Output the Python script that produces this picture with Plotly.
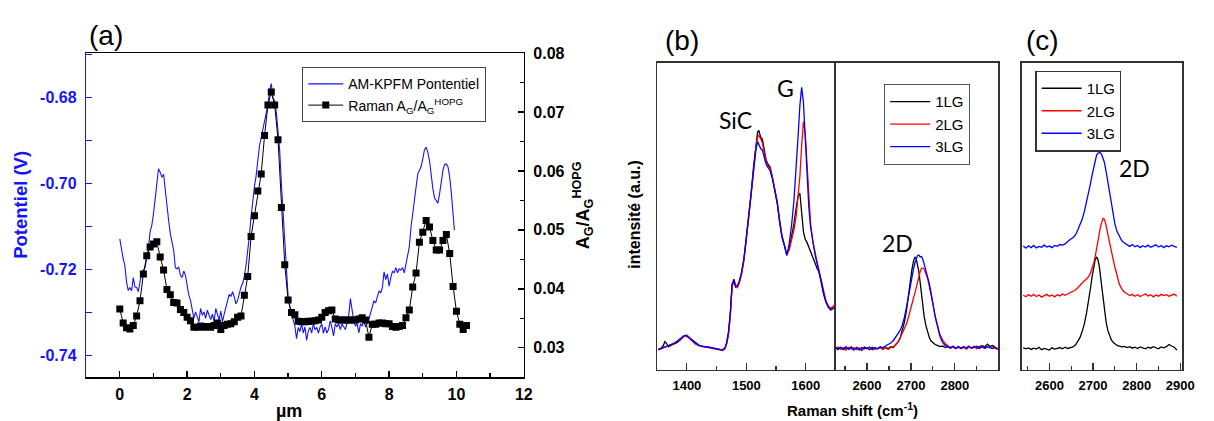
import plotly.graph_objects as go

# ---------------- Panel (a) data ----------------
kpfm_x = [0.00, 0.05, 0.10, 0.15, 0.20, 0.25, 0.30, 0.35, 0.40, 0.45, 0.50, 0.55, 0.60, 0.65, 0.70, 0.75, 0.80, 0.85, 0.90, 0.95,
          1.00, 1.05, 1.10, 1.15, 1.20, 1.25, 1.30, 1.35, 1.40, 1.45, 1.50, 1.55, 1.60, 1.65, 1.70, 1.75, 1.80, 1.85, 1.90, 1.95,
          2.00, 2.05, 2.10, 2.15, 2.20, 2.25, 2.30, 2.35, 2.40, 2.45, 2.50, 2.55, 2.60, 2.65, 2.70, 2.75, 2.80, 2.85, 2.90, 2.95,
          3.00, 3.05, 3.10, 3.15, 3.20, 3.25, 3.30, 3.35, 3.40, 3.45, 3.50, 3.55, 3.60, 3.65, 3.70, 3.75, 3.80, 3.85, 3.90, 3.95,
          4.00, 4.05, 4.10, 4.15, 4.20, 4.25, 4.30, 4.35, 4.40, 4.45, 4.50, 4.55, 4.60, 4.65, 4.70, 4.75, 4.80, 4.85, 4.90, 4.95,
          5.00, 5.05, 5.10, 5.15, 5.20, 5.25, 5.30, 5.35, 5.40, 5.45, 5.50, 5.55, 5.60, 5.65, 5.70, 5.75, 5.80, 5.85, 5.90, 5.95,
          6.00, 6.05, 6.10, 6.15, 6.20, 6.25, 6.30, 6.35, 6.40, 6.45, 6.50, 6.55, 6.60, 6.65, 6.70, 6.75, 6.80, 6.85, 6.90, 6.95,
          7.00, 7.05, 7.10, 7.15, 7.20, 7.25, 7.30, 7.35, 7.40, 7.45, 7.50, 7.55, 7.60, 7.65, 7.70, 7.75, 7.80, 7.85, 7.90, 7.95,
          8.00, 8.05, 8.10, 8.15, 8.20, 8.25, 8.30, 8.35, 8.40, 8.45, 8.50, 8.55, 8.60, 8.65, 8.70, 8.75, 8.80, 8.85, 8.90, 8.95,
          9.00, 9.05, 9.10, 9.15, 9.20, 9.25, 9.30, 9.35, 9.40, 9.45, 9.50, 9.55, 9.60, 9.65, 9.70, 9.75, 9.80, 9.85, 9.90, 9.94]
kpfm_v = [-0.7129, -0.7156, -0.7175, -0.7191, -0.7229, -0.7249, -0.7242, -0.7250, -0.7219, -0.7241,
          -0.7242, -0.7252, -0.7227, -0.7206, -0.7202, -0.7196, -0.7173, -0.7150, -0.7113, -0.7098,
          -0.7071, -0.7032, -0.6999, -0.6966, -0.6974, -0.6986, -0.6979, -0.7020, -0.7059, -0.7086,
          -0.7117, -0.7133, -0.7156, -0.7196, -0.7199, -0.7194, -0.7214, -0.7219, -0.7204, -0.7214,
          -0.7237, -0.7260, -0.7272, -0.7299, -0.7314, -0.7299, -0.7310, -0.7322, -0.7291, -0.7307,
          -0.7299, -0.7314, -0.7295, -0.7307, -0.7317, -0.7304, -0.7322, -0.7291, -0.7307, -0.7318,
          -0.7297, -0.7322, -0.7304, -0.7289, -0.7273, -0.7258, -0.7263, -0.7252, -0.7264, -0.7280,
          -0.7272, -0.7256, -0.7241, -0.7233, -0.7216, -0.7191, -0.7160, -0.7121, -0.7077, -0.7038,
          -0.7007, -0.6982, -0.6947, -0.6912, -0.6894, -0.6873, -0.6858, -0.6835, -0.6817, -0.6785,
          -0.6768, -0.6802, -0.6808, -0.6835, -0.6877, -0.6924, -0.7001, -0.7071, -0.7133, -0.7194,
          -0.7264, -0.7287, -0.7307, -0.7318, -0.7332, -0.7361, -0.7335, -0.7345, -0.7327, -0.7348,
          -0.7334, -0.7365, -0.7343, -0.7335, -0.7348, -0.7327, -0.7340, -0.7335, -0.7348, -0.7334,
          -0.7327, -0.7349, -0.7334, -0.7348, -0.7340, -0.7320, -0.7335, -0.7355, -0.7327, -0.7334,
          -0.7326, -0.7340, -0.7327, -0.7334, -0.7340, -0.7324, -0.7307, -0.7268, -0.7297, -0.7320,
          -0.7332, -0.7326, -0.7348, -0.7326, -0.7332, -0.7320, -0.7334, -0.7324, -0.7317, -0.7301,
          -0.7289, -0.7273, -0.7278, -0.7266, -0.7250, -0.7255, -0.7242, -0.7206, -0.7224, -0.7211,
          -0.7239, -0.7219, -0.7204, -0.7208, -0.7196, -0.7208, -0.7199, -0.7202, -0.7196, -0.7208,
          -0.7187, -0.7171, -0.7148, -0.7102, -0.7069, -0.7038, -0.6999, -0.6978, -0.6970, -0.6961,
          -0.6943, -0.6922, -0.6916, -0.6928, -0.6947, -0.6982, -0.7013, -0.7034, -0.7041, -0.7046,
          -0.7024, -0.6989, -0.6969, -0.6956, -0.6955, -0.6962, -0.6986, -0.7024, -0.7086, -0.7109]

raman_x = [0.0, 0.1, 0.2, 0.3, 0.4, 0.5, 0.6, 0.7, 0.8, 0.9, 1.0, 1.1, 1.2, 1.3, 1.4, 1.5, 1.6, 1.7, 1.8, 1.9,
           2.0, 2.1, 2.2, 2.3, 2.4, 2.5, 2.6, 2.7, 2.8, 2.9, 3.0, 3.1, 3.2, 3.3, 3.4, 3.5, 3.6, 3.7, 3.8, 3.9,
           4.0, 4.1, 4.2, 4.3, 4.4, 4.5, 4.6, 4.7, 4.8, 4.9, 5.0, 5.1, 5.2, 5.3, 5.4, 5.5, 5.6, 5.7, 5.8, 5.9,
           6.0, 6.1, 6.2, 6.3, 6.4, 6.5, 6.6, 6.7, 6.8, 6.9, 7.0, 7.1, 7.2, 7.3, 7.4, 7.5, 7.6, 7.7, 7.8, 7.9,
           8.0, 8.1, 8.2, 8.3, 8.4, 8.5, 8.6, 8.7, 8.8, 8.9, 9.0, 9.1, 9.2, 9.3, 9.4, 9.5, 9.6, 9.7, 9.8, 9.9,
           10.0, 10.1, 10.2, 10.3]
raman_r = [0.0366, 0.0342, 0.0334, 0.0332, 0.0338, 0.0354, 0.0380, 0.0425, 0.0456, 0.0471,
           0.0476, 0.0480, 0.0454, 0.0432, 0.0399, 0.0390, 0.0377, 0.0376, 0.0365, 0.0360,
           0.0352, 0.0346, 0.0335, 0.0335, 0.0337, 0.0335, 0.0336, 0.0335, 0.0338, 0.0342,
           0.0331, 0.0338, 0.0340, 0.0341, 0.0344, 0.0352, 0.0354, 0.0389, 0.0421, 0.0489,
           0.0524, 0.0566, 0.0595, 0.0660, 0.0712, 0.0734, 0.0712, 0.0653, 0.0538, 0.0441,
           0.0381, 0.0360, 0.0356, 0.0345, 0.0344, 0.0344, 0.0345, 0.0345, 0.0346, 0.0347,
           0.0352, 0.0360, 0.0363, 0.0364, 0.0349, 0.0347, 0.0347, 0.0347, 0.0347, 0.0347,
           0.0347, 0.0349, 0.0351, 0.0347, 0.0318, 0.0340, 0.0340, 0.0342, 0.0342, 0.0341,
           0.0341, 0.0336, 0.0335, 0.0336, 0.0338, 0.0351, 0.0364, 0.0403, 0.0427, 0.0479,
           0.0496, 0.0516, 0.0505, 0.0482, 0.0466, 0.0466, 0.0482, 0.0492, 0.0460, 0.0404,
           0.0362, 0.0340, 0.0331, 0.0338]

a_xticks = [0, 2, 4, 6, 8, 10, 12]
a_ylticks = [-0.74, -0.72, -0.70, -0.68]
a_ylticktext = ["-0.74", "-0.72", "-0.70", "-0.68"]
a_yrticks = [0.03, 0.04, 0.05, 0.06, 0.07, 0.08]
a_yrticktext = ["0.03", "0.04", "0.05", "0.06", "0.07", "0.08"]

# ---------------- Panel (b) left: G / SiC region ----------------
bl_x = [1352, 1356, 1360, 1363, 1366, 1369, 1373, 1378, 1384, 1390, 1395, 1399, 1403, 1408, 1414, 1420, 1426, 1432,
        1438, 1444, 1450, 1455, 1460, 1464, 1467, 1470, 1473, 1476, 1479, 1482, 1485, 1488, 1492, 1496, 1500, 1504,
        1508, 1512, 1516, 1519, 1521, 1524, 1527, 1530, 1533, 1536, 1540, 1544, 1548, 1552, 1556, 1560, 1564, 1568,
        1572, 1576, 1580, 1584, 1587, 1590, 1593, 1596, 1599, 1602, 1605, 1608, 1612, 1616, 1619, 1622, 1626, 1630,
        1634, 1638, 1642, 1646, 1649]
bl_1lg = [6.8, 7.0, 7.8, 9.2, 8.6, 7.5, 8.0, 8.4, 9.0, 10.0, 11.0, 11.3, 10.7, 9.8, 8.8, 8.1, 7.8, 7.5,
          7.4, 7.1, 6.9, 6.6, 6.5, 7.0, 8.8, 12.0, 18.0, 27.5, 29.5, 27.5, 27.2, 28.5, 31.5, 36.0, 42.5, 50.0,
          57.5, 66.0, 73.5, 77.5, 77.8, 75.8, 75.0, 71.5, 68.5, 67.0, 66.0, 62.5, 59.0, 54.5, 48.0, 43.0, 40.5, 37.5,
          39.5, 43.0, 47.5, 53.0, 56.5, 57.5, 52.0, 45.0, 42.5, 41.5, 40.0, 38.5, 36.0, 34.0, 33.0, 32.0, 28.0, 24.5,
          22.0, 20.5, 19.8, 20.2, 20.5]
bl_2lg = [6.5, 6.8, 7.2, 7.4, 7.6, 7.8, 8.1, 8.6, 9.3, 10.2, 11.0, 11.4, 10.9, 9.6, 8.5, 7.9, 7.6, 7.6,
          7.2, 7.0, 6.8, 6.4, 6.3, 6.9, 8.5, 11.5, 17.5, 27.0, 28.8, 27.3, 26.8, 28.2, 31.2, 35.8, 42.0, 49.5,
          57.0, 65.5, 72.5, 75.8, 76.3, 75.2, 73.8, 70.8, 68.0, 66.5, 65.5, 62.5, 59.0, 54.5, 48.5, 43.5, 40.5, 37.5,
          39.0, 42.5, 45.5, 50.5, 56.0, 63.0, 73.0, 80.8, 77.0, 66.0, 55.0, 47.5, 41.5, 37.5, 34.5, 32.5, 29.0, 25.5,
          22.5, 20.8, 20.0, 20.8, 21.0]
bl_3lg = [6.6, 6.9, 7.1, 7.5, 7.7, 7.9, 8.2, 8.7, 9.4, 10.4, 11.2, 11.1, 10.5, 9.5, 8.6, 8.0, 7.7, 7.4,
          7.4, 7.1, 6.9, 6.7, 6.6, 7.2, 9.0, 12.5, 18.5, 28.0, 29.0, 27.0, 27.5, 28.8, 31.8, 36.5, 43.0, 50.5,
          58.0, 66.0, 71.5, 74.3, 73.5, 72.0, 71.5, 69.5, 67.0, 66.0, 64.8, 62.0, 58.5, 54.0, 48.5, 43.5, 40.5, 37.2,
          41.0, 47.0, 55.0, 66.0, 76.0, 86.0, 91.9, 87.0, 75.0, 63.0, 53.0, 46.5, 41.0, 37.0, 34.5, 32.5, 29.0, 25.0,
          22.0, 20.3, 19.5, 20.0, 20.6]

# ---------------- Panel (b) right: 2D region ----------------
br_x = [2528, 2534, 2540, 2546, 2552, 2558, 2564, 2570, 2576, 2582, 2588, 2594, 2600, 2606, 2612, 2618, 2624, 2630,
        2636, 2642, 2648, 2654, 2660, 2665, 2670, 2675, 2680, 2685, 2690, 2694, 2698, 2702, 2706, 2709, 2712, 2715,
        2718, 2721, 2724, 2727, 2730, 2734, 2738, 2742, 2746, 2750, 2755, 2760, 2766, 2772, 2778, 2784, 2790, 2796,
        2802, 2808, 2814, 2820, 2826, 2832, 2838, 2844, 2850, 2856, 2862, 2868, 2874, 2880, 2886, 2892, 2898]
br_1lg = [7.4, 6.8, 7.3, 6.6, 7.2, 6.9, 7.5, 6.7, 7.1, 6.5, 7.3, 6.9, 7.2, 6.6, 7.4, 6.8, 7.0, 7.3,
          6.7, 7.4, 7.0, 7.6, 7.3, 8.0, 9.0, 10.2, 12.5, 15.5, 19.5, 24.0, 28.5, 32.5, 35.5, 36.8, 36.2, 34.5,
          32.0, 28.5, 24.5, 21.0, 17.5, 14.5, 12.0, 10.5, 9.4, 8.8, 8.3, 8.0, 7.6, 7.8, 7.3, 7.6, 7.1, 7.5,
          7.0, 7.4, 7.2, 7.6, 7.0, 7.5, 7.2, 7.7, 7.1, 7.6, 7.9, 7.5, 8.4, 7.7, 8.0, 7.3, 6.8]
br_2lg = [6.9, 7.5, 6.7, 7.2, 6.5, 7.4, 6.8, 7.3, 6.6, 7.2, 6.7, 7.5, 6.9, 7.3, 6.5, 7.1, 6.8, 7.4,
          6.9, 7.2, 6.7, 7.3, 7.6, 8.2, 9.0, 10.3, 11.9, 13.5, 15.0, 17.0, 19.5, 21.5, 23.5, 25.0, 27.0, 28.5,
          30.4, 32.0, 33.0, 33.2, 32.8, 31.5, 29.8, 27.0, 24.5, 21.5, 17.5, 14.5, 11.5, 9.8, 8.6, 7.9, 7.2, 7.5,
          6.9, 7.6, 7.0, 7.4, 6.8, 7.5, 7.1, 7.6, 6.9, 7.3, 7.7, 7.0, 7.5, 7.2, 7.6, 7.0, 6.7]
br_3lg = [7.2, 6.6, 7.4, 6.9, 7.6, 6.7, 7.2, 6.5, 7.4, 6.9, 6.4, 7.3, 7.0, 7.5, 6.8, 7.3, 6.9, 7.6,
          7.3, 7.8, 8.2, 8.8, 9.6, 10.6, 11.6, 12.8, 14.5, 17.0, 20.5, 24.0, 27.5, 30.5, 33.0, 34.8, 36.0, 37.2,
          37.4, 36.8, 36.9, 36.0, 34.5, 32.5, 30.4, 28.0, 25.0, 21.5, 17.5, 14.5, 11.0, 9.0, 8.0, 7.6, 7.3, 7.8,
          7.1, 7.6, 6.9, 7.5, 7.2, 7.8, 7.0, 7.4, 7.7, 7.0, 7.5, 7.1, 7.6, 7.3, 7.0, 7.4, 6.9]

# ---------------- Panel (c): offset 2D spectra ----------------
c_x = [2540, 2546, 2552, 2558, 2564, 2570, 2576, 2582, 2588, 2594, 2600, 2606, 2612, 2618, 2624, 2630, 2636, 2642,
       2648, 2654, 2660, 2665, 2670, 2675, 2680, 2685, 2690, 2694, 2698, 2702, 2705, 2708, 2711, 2714, 2717, 2720,
       2723, 2726, 2730, 2734, 2738, 2742, 2746, 2750, 2755, 2760, 2766, 2772, 2778, 2784, 2790, 2796, 2802, 2808,
       2814, 2820, 2826, 2832, 2838, 2844, 2850, 2856, 2862, 2868, 2874, 2880, 2886, 2892]
c_1lg = [7.3, 6.9, 7.2, 6.7, 7.1, 6.8, 7.4, 6.6, 7.0, 6.7, 6.5, 7.2, 6.8, 7.0, 7.3, 6.9, 7.4, 7.0,
         7.2, 7.5, 8.2, 9.2, 10.5, 12.5, 15.0, 18.5, 22.5, 26.5, 30.5, 34.0, 36.0, 36.8, 36.0, 34.0, 30.5, 27.0,
         23.0, 19.5, 15.5, 12.8, 11.0, 9.8, 9.0, 8.5, 8.0, 7.8, 7.5, 7.7, 7.3, 7.6, 7.1, 7.4, 7.0, 7.5,
         7.2, 6.9, 7.4, 7.1, 7.6, 7.3, 6.9, 7.5, 7.2, 7.6, 8.3, 7.8, 7.4, 6.5]
c_2lg = [24.3, 23.8, 24.5, 24.0, 24.6, 23.9, 24.4, 23.7, 24.2, 24.6, 24.0, 24.4, 23.8, 24.5, 24.1, 24.7, 24.3, 24.8,
         25.2, 25.6, 26.0, 26.8, 27.6, 28.3, 29.0, 29.6, 30.4, 31.5, 33.0, 35.0, 37.0, 39.5, 42.0, 44.5, 46.5, 48.0,
         49.3, 49.0, 47.0, 44.0, 41.0, 38.5, 36.0, 33.5, 30.5, 28.0, 26.3, 25.3, 24.8, 24.2, 24.6, 24.0, 24.5, 23.9,
         24.3, 24.7, 24.1, 24.5, 23.8, 24.4, 24.0, 24.6, 24.2, 24.5, 24.0, 24.4, 24.7, 24.0]
c_3lg = [40.3, 39.6, 40.4, 39.8, 40.5, 39.7, 40.2, 39.9, 40.6, 40.0, 40.3, 39.8, 40.5, 40.2, 40.8, 40.6, 41.0, 41.8,
         42.5, 43.0, 44.0, 45.5, 47.0, 49.0, 51.5, 54.5, 57.5, 60.5, 63.5, 66.5, 68.5, 69.8, 70.5, 70.7, 70.6, 70.0,
         68.8, 67.5, 64.5, 61.0, 57.5, 54.0, 50.5, 47.5, 45.0, 43.5, 42.0, 41.3, 40.6, 40.2, 40.8, 40.1, 40.5, 39.8,
         40.4, 40.0, 40.6, 39.9, 40.3, 40.7, 40.0, 40.5, 39.8, 40.4, 40.1, 40.6, 40.2, 39.9]

series_names = ["1LG", "2LG", "3LG"]
series_colors = ["#000000", "#ff0000", "#0000ff"]
bl_tickvals = [1400, 1500, 1600]
br_tickvals = [2600, 2700, 2800]
c_tickvals = [2600, 2700, 2800, 2900]

# ---------------- Figure ----------------
W, H = 1214, 421
TOP_SHIFT = 8          # the page renders the paper area 8 px lower and 413 px tall
FONT = "Liberation Sans, Arial, sans-serif"
BLUE = "#1414ff"


def px(x):
    return x / W


def py(y):
    return 1 - (y - TOP_SHIFT) / (H - TOP_SHIFT)


fig = go.Figure()

fig.add_trace(go.Scatter(x=kpfm_x, y=kpfm_v, mode="lines", name="AM-KPFM Pontentiel",
                         line=dict(color=BLUE, width=1.1), xaxis="x", yaxis="y", legend="legend"))
fig.add_trace(go.Scatter(x=raman_x, y=raman_r, mode="lines+markers",
                         name="Raman A<sub>G</sub>/A<sub>G</sub><sup>HOPG</sup>",
                         line=dict(color="black", width=1), marker=dict(symbol="square", size=7, color="black"),
                         xaxis="x", yaxis="y2", legend="legend"))

for name, col, yb in zip(series_names, series_colors, [bl_1lg, bl_2lg, bl_3lg]):
    fig.add_trace(go.Scatter(x=bl_x, y=yb, mode="lines", name=name, line=dict(color=col, width=1.3),
                             xaxis="x3", yaxis="y3", legend="legend2"))
for name, col, yb in zip(series_names, series_colors, [br_1lg, br_2lg, br_3lg]):
    fig.add_trace(go.Scatter(x=br_x, y=yb, mode="lines", name=name, line=dict(color=col, width=1.3),
                             xaxis="x4", yaxis="y4", showlegend=False))
for name, col, yc in zip(series_names, series_colors, [c_1lg, c_2lg, c_3lg]):
    fig.add_trace(go.Scatter(x=c_x, y=yc, mode="lines", name=name, line=dict(color=col, width=1.3),
                             xaxis="x5", yaxis="y5", legend="legend3"))

a_dom_x = [px(87), px(529)]
a_dom_y = [py(377.3), py(53)]
b_dom_y = [py(370), py(62.5)]

tickfont_a = dict(family=FONT, size=16, color="black", weight="bold")
tickfont_b = dict(family=FONT, size=13, color="black", weight="bold")
FRAME = "#333333"

fig.update_layout(
    width=W, height=H, margin=dict(l=0, r=0, t=0, b=0), autosize=False,
    paper_bgcolor="white", plot_bgcolor="rgba(0,0,0,0)", hovermode=False,
    font=dict(family=FONT, color="black"),
    xaxis=dict(domain=a_dom_x, range=[-1, 12], anchor="y", tickvals=a_xticks, ticks="inside", ticklen=6,
               tickwidth=1.3, tickcolor="black", minor=dict(ticks="inside", dtick=1, ticklen=4, tickwidth=1.3),
               showline=True, linecolor="black", linewidth=1.4, mirror=True, showgrid=False, zeroline=False,
               tickfont=tickfont_a, ticklabelstandoff=2),
    yaxis=dict(domain=a_dom_y, range=[-0.7451, -0.6697], anchor="x", tickvals=a_ylticks, ticktext=a_ylticktext,
               ticks="inside", ticklen=6, tickwidth=1.3, tickcolor=BLUE,
               minor=dict(ticks="inside", dtick=0.01, tick0=0, ticklen=6, tickwidth=1.3, tickcolor=BLUE),
               showline=True, linecolor=BLUE, linewidth=1.4, showgrid=False, zeroline=False,
               tickfont=dict(family=FONT, size=16, color=BLUE, weight="bold"), ticklabelstandoff=5),
    yaxis2=dict(range=[0.025, 0.08], overlaying="y", side="right", anchor="x", tickvals=a_yrticks,
                ticktext=a_yrticktext, ticks="inside", ticklen=6, tickwidth=1.3, tickcolor="black",
                minor=dict(ticks="inside", dtick=0.005, tick0=0, ticklen=4, tickwidth=1.3),
                showline=True, linecolor="black", linewidth=1.4, showgrid=False, zeroline=False,
                tickfont=tickfont_a, ticklabelstandoff=5),
    xaxis3=dict(domain=[px(663.7), px(843.3)], range=[1350, 1649], anchor="y3", tickvals=bl_tickvals,
                ticks="inside", ticklen=7, tickwidth=1.2, tickcolor=FRAME,
                minor=dict(ticks="inside", dtick=50, tick0=0, ticklen=4, tickwidth=1.2, tickcolor=FRAME),
                showline=True, linecolor=FRAME, linewidth=1.3, mirror=True, showgrid=False, zeroline=False,
                tickfont=tickfont_b, ticklabelstandoff=3),
    yaxis3=dict(domain=b_dom_y, range=[0, 100], anchor="x3", showticklabels=False, ticks="",
                showline=True, linecolor=FRAME, linewidth=1.3, mirror=True, showgrid=False, zeroline=False),
    xaxis4=dict(domain=[px(843.3), px(1008.3)], range=[2527, 2899], anchor="y4", tickvals=br_tickvals,
                ticks="inside", ticklen=7, tickwidth=1.2, tickcolor=FRAME,
                minor=dict(ticks="inside", dtick=50, tick0=0, ticklen=4, tickwidth=1.2, tickcolor=FRAME),
                showline=True, linecolor=FRAME, linewidth=1.3, mirror=True, showgrid=False, zeroline=False,
                tickfont=tickfont_b, ticklabelstandoff=3),
    yaxis4=dict(domain=b_dom_y, range=[0, 100], anchor="x4", showticklabels=False, ticks="",
                showline=True, linecolor=FRAME, linewidth=1.3, mirror=True, showgrid=False, zeroline=False),
    xaxis5=dict(domain=[px(1031.7), px(1194.3)], range=[2536, 2905], anchor="y5", tickvals=c_tickvals,
                ticks="inside", ticklen=7, tickwidth=1.2, tickcolor=FRAME,
                minor=dict(ticks="inside", dtick=50, tick0=0, ticklen=4, tickwidth=1.2, tickcolor=FRAME),
                showline=True, linecolor=FRAME, linewidth=1.3, mirror=True, showgrid=False, zeroline=False,
                tickfont=tickfont_b, ticklabelstandoff=3),
    yaxis5=dict(domain=b_dom_y, range=[0, 100], anchor="x5", showticklabels=False, ticks="",
                showline=True, linecolor=FRAME, linewidth=1.3, mirror=True, showgrid=False, zeroline=False),
    legend=dict(x=px(305), y=py(67), xanchor="left", yanchor="top", bgcolor="white",
                bordercolor="#444444", borderwidth=1.3, font=dict(family=FONT, size=14, color="black"),
                tracegroupgap=0, itemwidth=35),
    legend2=dict(x=px(892.7), y=py(84), xanchor="left", yanchor="top", bgcolor="white",
                 bordercolor="#555555", borderwidth=1.3, font=dict(family=FONT, size=15, color="black"),
                 itemwidth=40),
    legend3=dict(x=px(1045.7), y=py(70.7), xanchor="left", yanchor="top", bgcolor="white",
                 bordercolor="#333333", borderwidth=1.3, font=dict(family=FONT, size=15, color="black"),
                 itemwidth=40),
    showlegend=True,
)

ann_font = "Lato, Open Sans, sans-serif"
annotations = [
    dict(text="(a)", x=px(106.7), y=py(35), font=dict(family=FONT, size=28, color="black")),
    dict(text="(b)", x=px(689), y=py(40), font=dict(family=FONT, size=28, color="black")),
    dict(text="(c)", x=px(1053), y=py(40), font=dict(family=FONT, size=28, color="black")),
    dict(text="Potentiel (V)", x=px(20), y=py(205), textangle=-90,
         font=dict(family=FONT, size=18.5, color=BLUE, weight="bold")),
    dict(text="A<sub>G</sub>/A<sub>G</sub><sup>HOPG</sup>", x=px(588), y=py(205), textangle=-90,
         font=dict(family=FONT, size=18, color="black", weight="bold")),
    dict(text="µm", x=px(292), y=py(411), font=dict(family=FONT, size=18, color="black", weight="bold")),
    dict(text="intensité (a.u.)", x=px(640), y=py(215), textangle=-90,
         font=dict(family=FONT, size=16, color="black", weight="bold")),
    dict(text="Raman shift (cm<sup>-1</sup>)", x=px(861), y=py(409),
         font=dict(family=FONT, size=15, color="black", weight="bold")),
    dict(text="SiC", x=px(743), y=py(120), font=dict(family=ann_font, size=23, color="black")),
    dict(text="G", x=px(793), y=py(88), font=dict(family=ann_font, size=23, color="black")),
    dict(text="2D", x=px(906.6), y=py(243), font=dict(family=ann_font, size=23, color="black")),
    dict(text="2D", x=px(1145.4), y=py(168), font=dict(family=ann_font, size=23, color="black")),
]
for a in annotations:
    a.update(xref="paper", yref="paper", showarrow=False, xanchor="center", yanchor="middle")
fig.update_layout(annotations=annotations)

fig.write_html(
    "out.html",
    config={"displayModeBar": False, "staticPlot": True},
    post_script=("document.documentElement.style.margin='0px';document.body.style.margin='0px';"
                 "document.documentElement.style.overflow='hidden';document.body.style.overflow='hidden';"),
)
